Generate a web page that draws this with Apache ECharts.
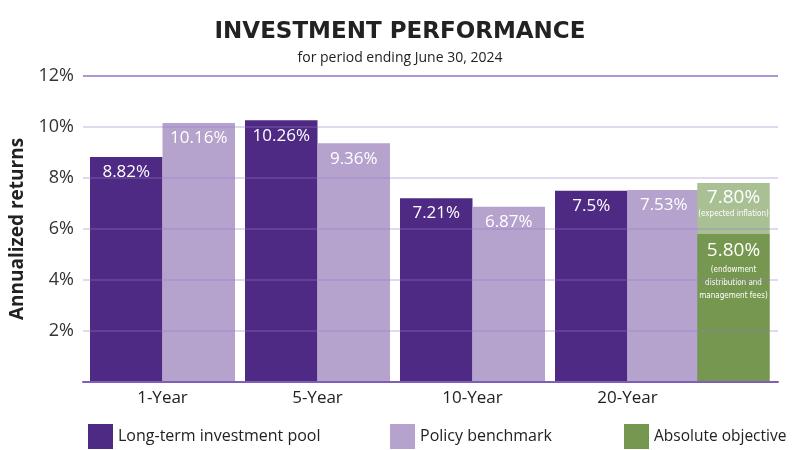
<!DOCTYPE html>
<html><head><meta charset="utf-8">
<script src="https://cdn.jsdelivr.net/npm/echarts@6/dist/echarts.min.js"></script>
<style>html,body{margin:0;padding:0;background:#fff}#c{width:800px;height:450px}</style>
</head><body><div id="c"></div>
<script>
const categories = ['1-Year', '5-Year', '10-Year', '20-Year'];
const poolValues = [8.82, 10.26, 7.21, 7.5];
const poolLabels = ['8.82%', '10.26%', '7.21%', '7.5%'];
const benchValues = [10.16, 9.36, 6.87, 7.53];
const benchLabels = ['10.16%', '9.36%', '6.87%', '7.53%'];
const objectiveBase = ['-', '-', '-', 5.80];
const objectiveTop = ['-', '-', '-', 2.00];
const objectiveBaseLabel = '5.80%';
const objectiveTopLabel = '7.80%';
const yTicks = [0, 2, 4, 6, 8, 10, 12];

const FONT = 'Open Sans';
const SMALL = "'DejaVu Sans Condensed', 'Roboto', sans-serif";
const C_POOL = '#4E2A84', C_BENCH = '#B5A3CD', C_OBJ = '#76974F', C_OBJ2 = '#A9C094';

const chart = echarts.init(document.getElementById('c'), null, {renderer: 'canvas'});
const labelCommon = {show: true, position: 'insideTop', distance: 7, color: '#fff', fontFamily: FONT, fontSize: 17};

chart.setOption({
  animation: false,
  textStyle: {fontFamily: FONT},
  title: {
    text: 'INVESTMENT PERFORMANCE',
    subtext: 'for period ending June 30, 2024',
    left: 'center', top: 16, itemGap: 7,
    textStyle: {fontFamily: 'DejaVu Sans', fontWeight: 'bold', fontSize: 23, color: '#222'},
    subtextStyle: {fontFamily: FONT, fontSize: 14, color: '#222'}
  },
  legend: [
    {left: 83, top: 419, itemWidth: 25, itemHeight: 25, icon: 'rect', data: ['Long-term investment pool'], textStyle: {fontFamily: FONT, fontSize: 16, color: '#222'}},
    {left: 385, top: 419, itemWidth: 25, itemHeight: 25, icon: 'rect', data: ['Policy benchmark'], textStyle: {fontFamily: FONT, fontSize: 16, color: '#222'}},
    {left: 619, top: 419, itemWidth: 25, itemHeight: 25, icon: 'rect', data: ['Absolute objective'], textStyle: {fontFamily: FONT, fontSize: 15.5, color: '#222'}}
  ],
  grid: [
    {left: 80, right: 22, top: 76, bottom: 68},
    {left: 85, width: 620, top: 76, bottom: 68},
    {left: 278.5, width: 520, top: 76, bottom: 68}
  ],
  xAxis: [
    {gridIndex: 0, type: 'value', min: 0, max: 1, z: 10, axisLine: {show: true, lineStyle: {color: '#7D5FB8', width: 2}}, axisTick: {show: false}, axisLabel: {show: false}, splitLine: {show: false}},
    {gridIndex: 1, type: 'category', data: categories, axisLine: {show: false}, axisTick: {show: false},
     axisLabel: {fontFamily: FONT, fontSize: 17, color: '#222', margin: 8}},
    {gridIndex: 2, type: 'category', data: categories, show: false}
  ],
  yAxis: [
    {gridIndex: 0, type: 'value', min: 0, max: 12, interval: 2, z: 10,
     name: 'Annualized returns', nameLocation: 'middle', nameGap: 56, nameRotate: 90,
     nameTextStyle: {fontFamily: FONT, fontWeight: 'bold', fontSize: 19, color: '#222'},
     axisLine: {show: false}, axisTick: {show: false},
     axisLabel: {fontFamily: FONT, fontSize: 18, color: '#333', margin: 9, formatter: v => v === 0 ? '' : v + '%'},
     splitLine: {show: true, lineStyle: {width: 1.5, color: ['rgba(0,0,0,0)', 'rgba(150,120,200,0.38)', 'rgba(150,120,200,0.38)', 'rgba(150,120,200,0.38)', 'rgba(150,120,200,0.38)', 'rgba(150,120,200,0.38)', 'rgba(125,90,185,0.85)']}}},
    {gridIndex: 1, type: 'value', min: 0, max: 12, show: false, splitLine: {show: false}},
    {gridIndex: 2, type: 'value', min: 0, max: 12, show: false, splitLine: {show: false}}
  ],
  series: [
    {name: 'Long-term investment pool', type: 'bar', xAxisIndex: 1, yAxisIndex: 1, data: poolValues, barWidth: 72.5, barGap: '0%', barCategoryGap: 10,
     itemStyle: {color: C_POOL}, label: Object.assign({}, labelCommon, {formatter: p => poolLabels[p.dataIndex]})},
    {name: 'Policy benchmark', type: 'bar', xAxisIndex: 1, yAxisIndex: 1, data: benchValues, barWidth: 72.5, barGap: '0%',
     itemStyle: {color: C_BENCH}, label: Object.assign({}, labelCommon, {formatter: p => benchLabels[p.dataIndex]})},
    {name: 'Absolute objective', type: 'bar', stack: 'obj', xAxisIndex: 2, yAxisIndex: 2, data: objectiveBase, barWidth: 72.5,
     itemStyle: {color: C_OBJ},
     label: {show: true, position: 'insideTop', distance: 4, color: '#fff', align: 'center', overflow: 'none',
       formatter: '{a|' + objectiveBaseLabel + '}\n{b|(endowment}\n{b|distribution and}\n{b|management fees)}',
       rich: {a: {fontFamily: FONT, fontSize: 19, color: '#fff', lineHeight: 25}, b: {fontFamily: SMALL, fontSize: 8, color: '#fff', lineHeight: 13}}}},
    {name: 'Absolute objective ', type: 'bar', stack: 'obj', xAxisIndex: 2, yAxisIndex: 2, data: objectiveTop, barWidth: 72.5,
     itemStyle: {color: C_OBJ2},
     label: {show: true, position: 'insideTop', distance: 3, color: '#fff', align: 'center', overflow: 'none',
       formatter: '{a|' + objectiveTopLabel + '}\n{b|(expected inflation)}',
       rich: {a: {fontFamily: FONT, fontSize: 19, color: '#fff', lineHeight: 22}, b: {fontFamily: SMALL, fontSize: 8, color: '#fff', lineHeight: 11}}}}
  ]
});
</script></body></html>
